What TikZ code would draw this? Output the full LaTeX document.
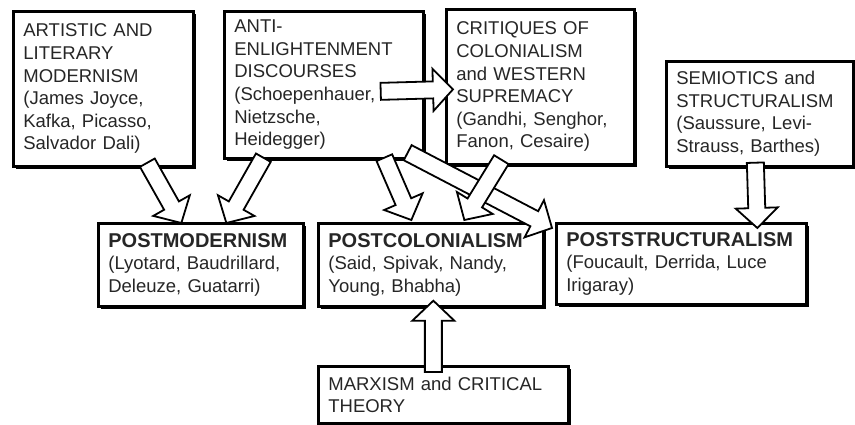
\documentclass[tikz,border=0pt]{standalone}
\usepackage{fontspec}
\setmainfont{Liberation Sans}
\usetikzlibrary{calc,shadows}

\tikzset{
  box/.style={draw=black, line width=2.7pt, fill=white, rectangle, anchor=north west,
    align=left, inner xsep=10pt, inner ysep=0pt, text=black!85,
    font=\fontsize{18.5}{22.6}\selectfont,
    drop shadow={shadow xshift=2.6pt, shadow yshift=-2.6pt, fill=black, opacity=1}},
  flow/.style={draw=black, line width=1.8pt, fill=white, line join=miter}
}

% hollow block arrow from #1 (tail) to #2 (tip)
\newcommand{\flowarrow}[2]{%
  \coordinate (hb) at ($(#2)!20pt!(#1)$);
  \draw[flow] ($(#1)!8.5pt!90:(#2)$) -- ($(hb)!8.5pt!-90:(#1)$) -- ($(hb)!21pt!-90:(#1)$)
    -- (#2) -- ($(hb)!21pt!90:(#1)$) -- ($(hb)!8.5pt!90:(#1)$) -- ($(#1)!8.5pt!-90:(#2)$) -- cycle;
}
% school title
\newcommand{\school}[1]{{\fontsize{20}{22.6}\selectfont\bfseries #1}}

\begin{document}
\begin{tikzpicture}[x=1pt, y=-1pt]
  \fill[white] (0,0) rectangle (855,425);
  \useasboundingbox (0,0) rectangle (855,425);

  % sources
  \node[box, text width=160pt, minimum height=155pt] (art) at (12,10)
    {ARTISTIC AND\\LITERARY\\MODERNISM\\(James Joyce,\\Kafka, Picasso,\\Salvador Dali)};
  \node[box, text width=179pt, minimum height=147pt] (anti) at (223,10)
    {ANTI-\\ENLIGHTENMENT\\DISCOURSES\\(Schoepenhauer,\\Nietzsche,\\Heidegger)};
  \node[box, text width=168pt, minimum height=155pt] (crit) at (445,8)
    {CRITIQUES OF\\COLONIALISM\\and WESTERN\\SUPREMACY\\(Gandhi, Senghor,\\Fanon, Cesaire)};
  \node[box, text width=167pt, minimum height=105pt] (semi) at (665,60)
    {SEMIOTICS and\\STRUCTURALISM\\(Saussure, Levi-\\Strauss, Barthes)};

  % the three "post" schools
  \node[box, text width=185pt, minimum height=83pt] (pomo) at (97,222)
    {\school{POSTMODERNISM}\\(Lyotard, Baudrillard,\\Deleuze, Guatarri)};
  \node[box, text width=205pt, minimum height=83pt] (poco) at (317,222)
    {\school{POSTCOLONIALISM}\\(Said, Spivak, Nandy,\\Young, Bhabha)};
  \node[box, text width=230pt, minimum height=81pt] (post) at (555,222)
    {\school{POSTSTRUCTURALISM}\\(Foucault, Derrida, Luce\\Irigaray)};

  \node[box, text width=230pt, minimum height=57pt] (marx) at (317,365)
    {MARXISM and CRITICAL\\THEORY};

  % arrow ends
  \coordinate (t1) at ([xshift=44pt, yshift=5pt]art.south);
  \coordinate (h1) at ([xshift=-19.5pt, yshift=-1pt]pomo.north);
  \coordinate (t2) at ([xshift=-60.5pt, yshift=2pt]anti.south);
  \coordinate (h2) at ([xshift=25.5pt, yshift=-1pt]pomo.north);
  \coordinate (t3) at ([xshift=60.5pt, yshift=2pt]anti.south);
  \coordinate (h3) at ([xshift=-19.5pt, yshift=2pt]poco.north);
  \coordinate (t4) at ([xshift=-39pt, yshift=6pt]crit.south);
  \coordinate (h4) at ([xshift=33.5pt, yshift=2pt]poco.north);
  \coordinate (t5) at ([xshift=-17pt, yshift=7pt]anti.south east);
  \coordinate (h5) at ([xshift=-3pt, yshift=-6pt]post.north west);
  \coordinate (t6) at ([xshift=-44pt, yshift=-6.5pt]anti.east);
  \coordinate (h6) at ([xshift=8pt, yshift=-2.5pt]crit.west);
  \coordinate (t7) at ([xshift=-4.5pt, yshift=5pt]semi.south);
  \coordinate (h7) at ([xshift=76pt, yshift=-6pt]post.north);
  \coordinate (t8) at ([xshift=-10pt, yshift=-7pt]marx.north);
  \coordinate (h8) at ([xshift=2.5pt, yshift=7pt]poco.south);

  \flowarrow{t1}{h1}
  \flowarrow{t2}{h2}
  \flowarrow{t3}{h3}
  \flowarrow{t5}{h5}
  \flowarrow{t4}{h4}
  \flowarrow{t6}{h6}
  \flowarrow{t7}{h7}
  \flowarrow{t8}{h8}
\end{tikzpicture}
\end{document}
